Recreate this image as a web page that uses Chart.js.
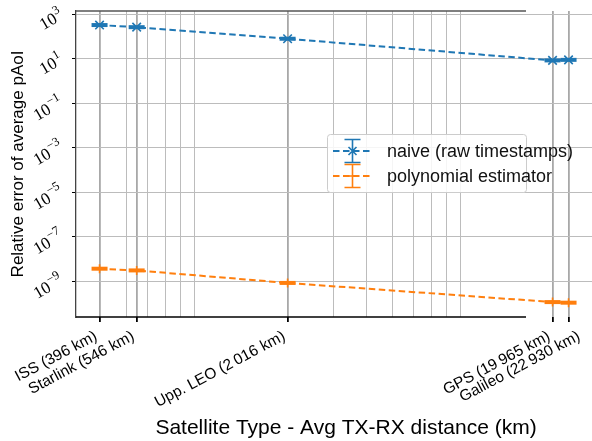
<!DOCTYPE html>
<html>
<head>
<meta charset="utf-8">
<script src="https://cdn.jsdelivr.net/npm/chart.js@4.4.1/dist/chart.umd.min.js"></script>
<style>
  html, body { margin: 0; padding: 0; background: #fff; overflow: hidden; }
</style>
</head>
<body>
<canvas id="chart" width="592" height="441"></canvas>
<script>
// x positions: average TX-RX distance per satellite type (km)
const distances = [396, 546, 2016, 19965, 22930];
const categories = [
  "ISS (396 km)",
  "Starlink (546 km)",
  "Upp. LEO (2\u2009016 km)",
  "GPS (19\u2009965 km)",
  "Galileo (22\u2009930 km)"
];
// relative error of average pAoI
const naiveErr = [330, 265, 80, 8.5, 9.0];
const polyErr = [3.7e-9, 3.1e-9, 8.5e-10, 1.17e-10, 1.1e-10];
// log minor grid lines on x, and labelled decades on y
const minorTicks = [500, 600, 700, 800, 900, 3000, 4000, 5000, 6000, 7000, 8000, 9000];
const yTickExps = [3, 1, -1, -3, -5, -7, -9];

const seriesNames = ["naive (raw timestamps)", "polynomial estimator"];
const xTitle = "Satellite Type - Avg TX-RX distance (km)";
const BLUE = "#1f77b4";
const ORANGE = "#ff7f0e";
const SPINE_RIGHT = 526;   // axes frame stops here, the grid runs on
const AXES_RIGHT = 616;    // original axes ran past the crop, title centred on it
const X_LABEL_NUDGE = { 4: 14 }; // Galileo label pushed right in the original

const pts = vals => distances.map((d, i) => ({ x: d, y: vals[i] }));

// =======================
// EXTRA DRAWING (spines, tick labels, x title, legend)
// =======================
const extras = {
  id: "extras",
  afterDraw(chart) {
    const ctx = chart.ctx;
    const a = chart.chartArea;
    const x = chart.scales.x;
    const y = chart.scales.y;

    ctx.save();
    // top + bottom spines
    ctx.lineWidth = 1.3;
    ctx.strokeStyle = "#555";
    ctx.beginPath();
    ctx.moveTo(a.left, a.top);
    ctx.lineTo(SPINE_RIGHT, a.top);
    ctx.stroke();
    ctx.strokeStyle = "#000";
    ctx.beginPath();
    ctx.moveTo(a.left, a.bottom);
    ctx.lineTo(SPINE_RIGHT, a.bottom);
    ctx.stroke();

    ctx.fillStyle = "#000";

    // x tick labels: rotated, box right edge on the tick
    const xa = 28 * Math.PI / 180;
    const xc = Math.cos(xa), xs = Math.sin(xa);
    ctx.font = '15.5px "Liberation Sans"';
    const asc = 11.5, desc = 3;
    distances.forEach((d, i) => {
      const w = ctx.measureText(categories[i]).width;
      const right = x.getPixelForValue(d) + (X_LABEL_NUDGE[i] || 0);
      ctx.save();
      ctx.translate(right - (w * xc + desc * xs), a.bottom + 12 + w * xs + asc * xc);
      ctx.rotate(-xa);
      ctx.textAlign = "left";
      ctx.textBaseline = "alphabetic";
      ctx.fillText(categories[i], 0, 0);
      ctx.restore();
    });

    // y tick labels 10^n, rotated like the original
    const ya = Math.PI / 6;
    const yc = Math.cos(ya), ys = Math.sin(ya);
    yTickExps.forEach(e => {
      const py = y.getPixelForValue(Math.pow(10, e));
      ctx.font = '17px "Liberation Serif"';
      const wb = ctx.measureText("10").width;
      const expText = e < 0 ? "\u2212" + (-e) : String(e);
      ctx.font = '12.5px "Liberation Serif"';
      const we = ctx.measureText(expText).width;
      const w = wb + we, h = 17;
      const bw = w * yc + h * ys;
      ctx.save();
      ctx.translate(a.left - 11 - bw / 2, py + 5);
      ctx.rotate(-ya);
      ctx.textBaseline = "alphabetic";
      ctx.textAlign = "left";
      ctx.font = '17px "Liberation Serif"';
      ctx.fillText("10", -w / 2, 6);
      ctx.font = '12.5px "Liberation Serif"';
      ctx.fillText(expText, -w / 2 + wb + 0.5, -1.5);
      ctx.restore();
    });

    // x axis title, centred on the full (uncropped) axes
    ctx.font = '21px "Liberation Sans"';
    ctx.textAlign = "center";
    ctx.textBaseline = "middle";
    ctx.fillText(xTitle, (a.left + AXES_RIGHT) / 2, 428);

    // legend
    const lx = 327, ly = 134, lw = 199, lh = 58;
    ctx.fillStyle = "rgba(255,255,255,0.85)";
    ctx.strokeStyle = "#cccccc";
    ctx.lineWidth = 1;
    ctx.beginPath();
    ctx.roundRect(lx + 0.5, ly + 0.5, lw, lh, 3);
    ctx.fill();
    ctx.stroke();

    [BLUE, ORANGE].forEach((col, i) => {
      const cy = ly + 17 + i * 25;
      const cx = lx + 25.5;
      ctx.strokeStyle = col;
      ctx.lineWidth = 2;
      ctx.setLineDash([6.5, 3.5]);
      ctx.beginPath();
      ctx.moveTo(lx + 6, cy);
      ctx.lineTo(lx + 46, cy);
      ctx.stroke();
      ctx.setLineDash([]);
      ctx.lineWidth = 1.6;
      ctx.beginPath();
      ctx.moveTo(cx, cy - 11.5); ctx.lineTo(cx, cy + 11.5);
      ctx.moveTo(cx - 8, cy - 11.5); ctx.lineTo(cx + 8, cy - 11.5);
      ctx.moveTo(cx - 8, cy + 11.5); ctx.lineTo(cx + 8, cy + 11.5);
      if (i === 0) {
        ctx.moveTo(cx - 4, cy - 4); ctx.lineTo(cx + 4, cy + 4);
        ctx.moveTo(cx - 4, cy + 4); ctx.lineTo(cx + 4, cy - 4);
      } else {
        ctx.moveTo(cx - 4.5, cy); ctx.lineTo(cx + 4.5, cy);
      }
      ctx.stroke();
      ctx.fillStyle = "#111";
      ctx.font = '18px "Liberation Sans"';
      ctx.textAlign = "left";
      ctx.textBaseline = "middle";
      ctx.fillText(seriesNames[i], lx + 60, cy + 1);
    });
    ctx.restore();
  }
};

const isMajor = v => distances.includes(v);

new Chart(document.getElementById("chart"), {
  type: "line",
  data: {
    datasets: [
      {
        label: seriesNames[0],
        data: pts(naiveErr),
        borderColor: BLUE,
        backgroundColor: BLUE,
        borderWidth: 2,
        borderDash: [6.5, 3.5],
        pointStyle: "crossRot",
        pointRadius: 6,
        pointBorderWidth: 1.6,
        fill: false,
        order: 1
      },
      {
        label: "naive caps",
        data: pts(naiveErr),
        showLine: false,
        borderColor: BLUE,
        pointStyle: "line",
        pointRadius: 8,
        pointBorderWidth: 4,
        order: 2
      },
      {
        label: seriesNames[1],
        data: pts(polyErr),
        borderColor: ORANGE,
        backgroundColor: ORANGE,
        borderWidth: 2,
        borderDash: [6.5, 3.5],
        pointStyle: "cross",
        pointRadius: 4.5,
        pointBorderWidth: 1.6,
        fill: false,
        order: 3
      },
      {
        label: "poly caps",
        data: pts(polyErr),
        showLine: false,
        borderColor: ORANGE,
        pointStyle: "line",
        pointRadius: 8,
        pointBorderWidth: 4,
        order: 4
      }
    ]
  },
  options: {
    responsive: false,
    animation: false,
    devicePixelRatio: 1,
    layout: { autoPadding: false, padding: { top: 11, left: 0, right: 0, bottom: 0 } },
    plugins: {
      legend: { display: false },
      tooltip: { enabled: false }
    },
    scales: {
      x: {
        type: "logarithmic",
        min: 323,
        max: 28090,
        afterBuildTicks: scale => {
          scale.ticks = [...distances, ...minorTicks]
            .sort((p, q) => p - q)
            .map(v => ({ value: v }));
        },
        afterFit: scale => {
          scale.height = 124;
          scale.paddingLeft = 0;
          scale.paddingRight = 0;
        },
        border: { display: false },
        grid: {
          color: c => (c.tick && isMajor(c.tick.value)) ? "#a8a8a8" : "#bcbcbc",
          lineWidth: c => (c.tick && isMajor(c.tick.value)) ? 1.8 : 1,
          tickColor: c => (c.tick && isMajor(c.tick.value)) ? "#000" : "rgba(0,0,0,0)",
          tickLength: 5
        },
        ticks: { display: false, autoSkip: false },
        title: { display: false }
      },
      y: {
        type: "logarithmic",
        min: 2.5e-11,
        max: 1413,
        afterBuildTicks: scale => {
          scale.ticks = yTickExps.map(e => ({ value: Math.pow(10, e) }));
        },
        afterFit: scale => {
          scale.width = 76;
          scale.paddingTop = 0;
          scale.paddingBottom = 0;
        },
        border: { display: true, color: "#444", width: 1.3 },
        grid: {
          color: "#bcbcbc",
          lineWidth: 1,
          tickColor: "#000",
          tickLength: 4
        },
        ticks: { display: false },
        title: {
          display: true,
          text: "Relative error of average pAoI",
          color: "#000",
          font: { family: "Liberation Sans", size: 17 },
          padding: { top: 8, bottom: 0 }
        }
      }
    }
  },
  plugins: [extras]
});
</script>
</body>
</html>
